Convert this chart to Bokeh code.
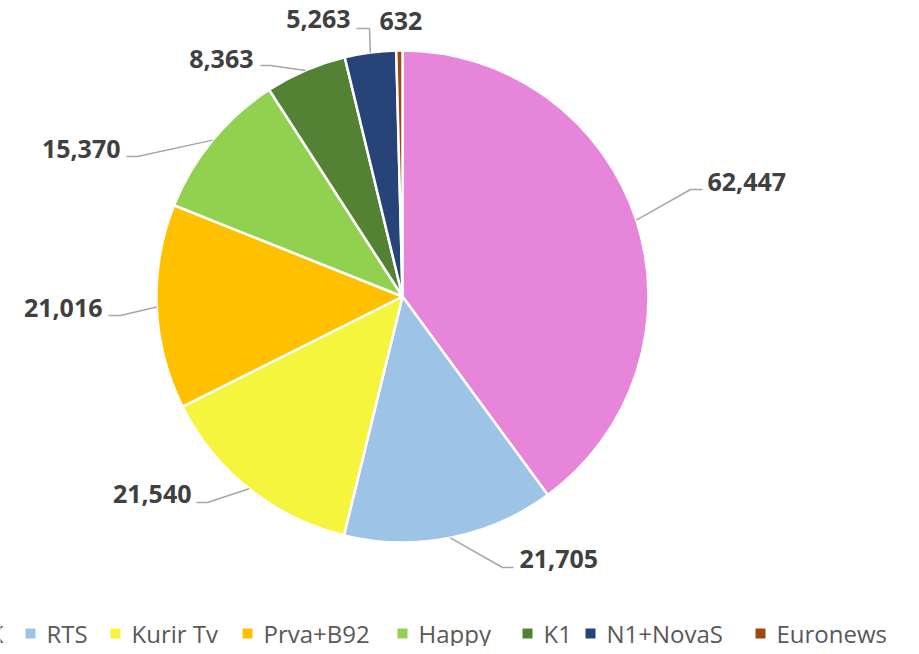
import math
from bokeh.plotting import figure
from bokeh.models import Range1d, ColumnDataSource
from bokeh.core.properties import value
from bokeh.embed import file_html
from bokeh.resources import INLINE

# ---- data ----
channels = ["PINK", "RTS", "Kurir Tv", "Prva+B92", "Happy", "K1", "N1+NovaS", "Euronews"]
viewers = [62447, 21705, 21540, 21016, 15370, 8363, 5263, 632]
colors = ["#E685D9", "#9DC3E6", "#F4F53C", "#FFC000", "#92D050", "#548235", "#264478", "#9E480E"]

# ---- layout (picture pixel coordinates, y downward) ----
CX, CY, R = 402, 296, 246
label_x = [707, 519, 191, 102, 120, 253, 350, 379]
label_y = [181, 558, 493, 307, 148, 58, 18, 20]
label_align = ["left", "left", "right", "right", "right", "right", "right", "left"]
elbow_pts = [(690, 189), (502, 567), (207, 502), (120, 315), (137, 156), (270, 65), (369, 28), None]
end_pts = [(702, 189), (513, 567), (196, 502), (108, 315), (126, 156), (260, 65), (356, 28), None]
legend_sq_x = [-72, 25, 110, 242, 397, 522, 585, 755]
legend_y = 633

W, H = 911, 646
PAGE_H = 654


def Y(img_y):
    return PAGE_H - img_y


p = figure(width=W, height=H, x_range=Range1d(0, W), y_range=Range1d(PAGE_H - H, PAGE_H),
           output_backend="svg", toolbar_location=None, min_border=0)
p.axis.visible = False
p.grid.visible = False
p.outline_line_color = None
p.background_fill_color = "white"

total = float(sum(viewers))
starts, ends, mids = [], [], []
cum = 0.0
for v in viewers:
    c0 = cum / total
    cum += v
    c1 = cum / total
    starts.append(math.pi / 2 - 2 * math.pi * c0)
    ends.append(math.pi / 2 - 2 * math.pi * c1)
    mids.append(2 * math.pi * (c0 + c1) / 2)  # clockwise from top

src = ColumnDataSource(dict(start=starts, end=ends, color=colors))
p.wedge(x=CX, y=Y(CY), radius=R, start_angle="start", end_angle="end", direction="clock",
        fill_color="color", line_color="white", line_width=2.5, source=src)

# leader lines
xs, ys = [], []
for i, m in enumerate(mids):
    if elbow_pts[i] is None:
        continue
    sx = CX + R * math.sin(m)
    sy = CY - R * math.cos(m)
    ex, ey = elbow_pts[i]
    tx, ty = end_pts[i]
    xs.append([sx, ex, tx])
    ys.append([Y(sy), Y(ey), Y(ty)])
p.multi_line(xs=xs, ys=ys, line_color="#A6A6A6", line_width=1.5)

# data labels
for align in ("left", "right"):
    idx = [i for i in range(len(viewers)) if label_align[i] == align]
    p.text(x=[label_x[i] for i in idx], y=[Y(label_y[i]) for i in idx],
           text=[f"{viewers[i]:,}" for i in idx],
           text_font=value("Open Sans"), text_font_style="bold", text_font_size="25px",
           text_color="#404040", text_align=align, text_baseline="middle")

# legend
p.rect(x=[x + 5 for x in legend_sq_x], y=[Y(legend_y)] * len(channels), width=10, height=10,
       fill_color=colors, line_color=None)
p.text(x=[x + 21 for x in legend_sq_x], y=[Y(legend_y)] * len(channels), text=channels,
       text_font=value("Open Sans"), text_font_size="24px", text_color="#595959",
       text_align="left", text_baseline="middle")

open("out.html", "w").write(file_html(p, INLINE))
